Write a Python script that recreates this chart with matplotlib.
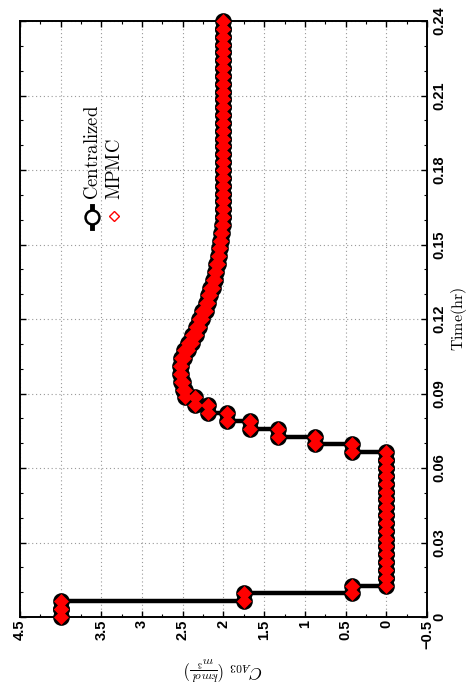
import numpy as np
import matplotlib
matplotlib.use("Agg")
import matplotlib.pyplot as plt
from matplotlib.ticker import MultipleLocator

plt.rcParams['mathtext.fontset'] = 'cm'

# sample period of the controller (hr) and the held input values C_A03 (kmol/m^3)
dt = 0.24 / 76
centralized = [4.0, 4.0, 1.75, 0.42,
               0, 0, 0, 0, 0, 0, 0, 0, 0, 0, 0, 0, 0, 0, 0, 0, 0,
               0.42, 0.88, 1.33, 1.67, 1.96, 2.19, 2.35, 2.47,
               2.50, 2.52, 2.53, 2.52, 2.48, 2.43, 2.39, 2.34, 2.30, 2.26,
               2.22, 2.19, 2.16, 2.13, 2.11, 2.09, 2.07, 2.05, 2.04, 2.03,
               2.02, 2.01, 2.01, 2.01, 2.01, 2.00, 2.00, 2.00, 2.00, 2.00,
               2.00, 2.00, 2.00, 2.00, 2.00, 2.00, 2.00, 2.00, 2.00, 2.00,
               2.00, 2.00, 2.00, 2.00, 2.00, 2.00, 2.00]
mpmc = list(centralized)

xticks = [4.5, 4.0, 3.5, 3.0, 2.5, 2.0, 1.5, 1.0, 0.5, 0.0, -0.5]
xticklabels = ['4.5', '', '3.5', '3', '2.5', '2', '1.5', '1', '0.5', '0', '\u22120.5']
yticks = [0, 0.03, 0.06, 0.09, 0.12, 0.15, 0.18, 0.21, 0.24]
yticklabels = ['0', '0.03', '0.06', '0.09', '0.12', '0.15', '0.18', '0.21', '0.24']


def stairs(u):
    edges = np.arange(len(u) + 1) * dt
    return np.repeat(u, 2), np.repeat(edges, 2)[1:-1]


fig = plt.figure(figsize=(4.7, 6.89), dpi=100)
ax = fig.add_axes([20/470, 1 - 617/689, 407/470, 596/689])

cx, ct = stairs(centralized)
mx, mt = stairs(mpmc)
ax.plot(cx, ct, '-', color='k', lw=3.2, marker='o', ms=10.5, mfc='k', mec='k',
        mew=1.5, clip_on=False, zorder=3)
ax.plot(mx, mt, linestyle='none', marker='D', ms=7.5, mfc='red', mec='red',
        mew=0.5, clip_on=False, zorder=4)

ax.set_xlim(4.5, -0.5)
ax.set_ylim(0, 0.24)
ax.set_xticks(xticks)
ax.set_xticklabels(xticklabels, rotation=90, fontfamily='Liberation Sans',
                   fontweight='bold', fontsize=10.5)
ax.set_yticks(yticks)
ax.set_yticklabels(yticklabels, rotation=90, fontfamily='Liberation Sans',
                   fontweight='bold', fontsize=10.5, va='center')
ax.xaxis.set_minor_locator(MultipleLocator(0.25))
ax.yaxis.set_minor_locator(MultipleLocator(0.01))
ax.tick_params(which='both', direction='in', top=True, bottom=True,
               left=True, right=True, labelleft=False, labelright=True)
ax.tick_params(which='major', length=4, width=1)
ax.tick_params(which='minor', length=2, width=0.8)
ax.tick_params(axis='x', pad=2)
ax.tick_params(axis='y', pad=4)
for s in ax.spines.values():
    s.set_linewidth(1.4)
ax.grid(True, which='major', linestyle=(0, (1, 2.5)), color='0.6', lw=0.8)

ax.yaxis.set_label_position('right')
ax.set_ylabel(r'$\mathrm{Time(hr)}$', fontsize=11.5, rotation=90, labelpad=2)
ax.set_xlabel(r'$C_{A03}\ (\frac{kmol}{m^3})$', fontsize=12, rotation=180,
              labelpad=4)

# legend, drawn sideways like the rest of the figure
ax.plot([0.178, 0.178], [0.652, 0.690], color='k', lw=3.5,
        transform=ax.transAxes, clip_on=False)
ax.plot([0.178], [0.671], marker='o', ms=10, mfc='white', mec='k', mew=1.8,
        transform=ax.transAxes, clip_on=False)
ax.plot([0.231], [0.673], marker='D', ms=5, mfc='none', mec='red', mew=1,
        transform=ax.transAxes, clip_on=False)
ax.text(0.178, 0.700, r'$\mathrm{Centralized}$', rotation=90, ha='center',
        va='bottom', fontsize=13.5, transform=ax.transAxes)
ax.text(0.231, 0.700, r'$\mathrm{MPMC}$', rotation=90, ha='center',
        va='bottom', fontsize=13.5, transform=ax.transAxes)

fig.savefig('out.png', dpi=100)
